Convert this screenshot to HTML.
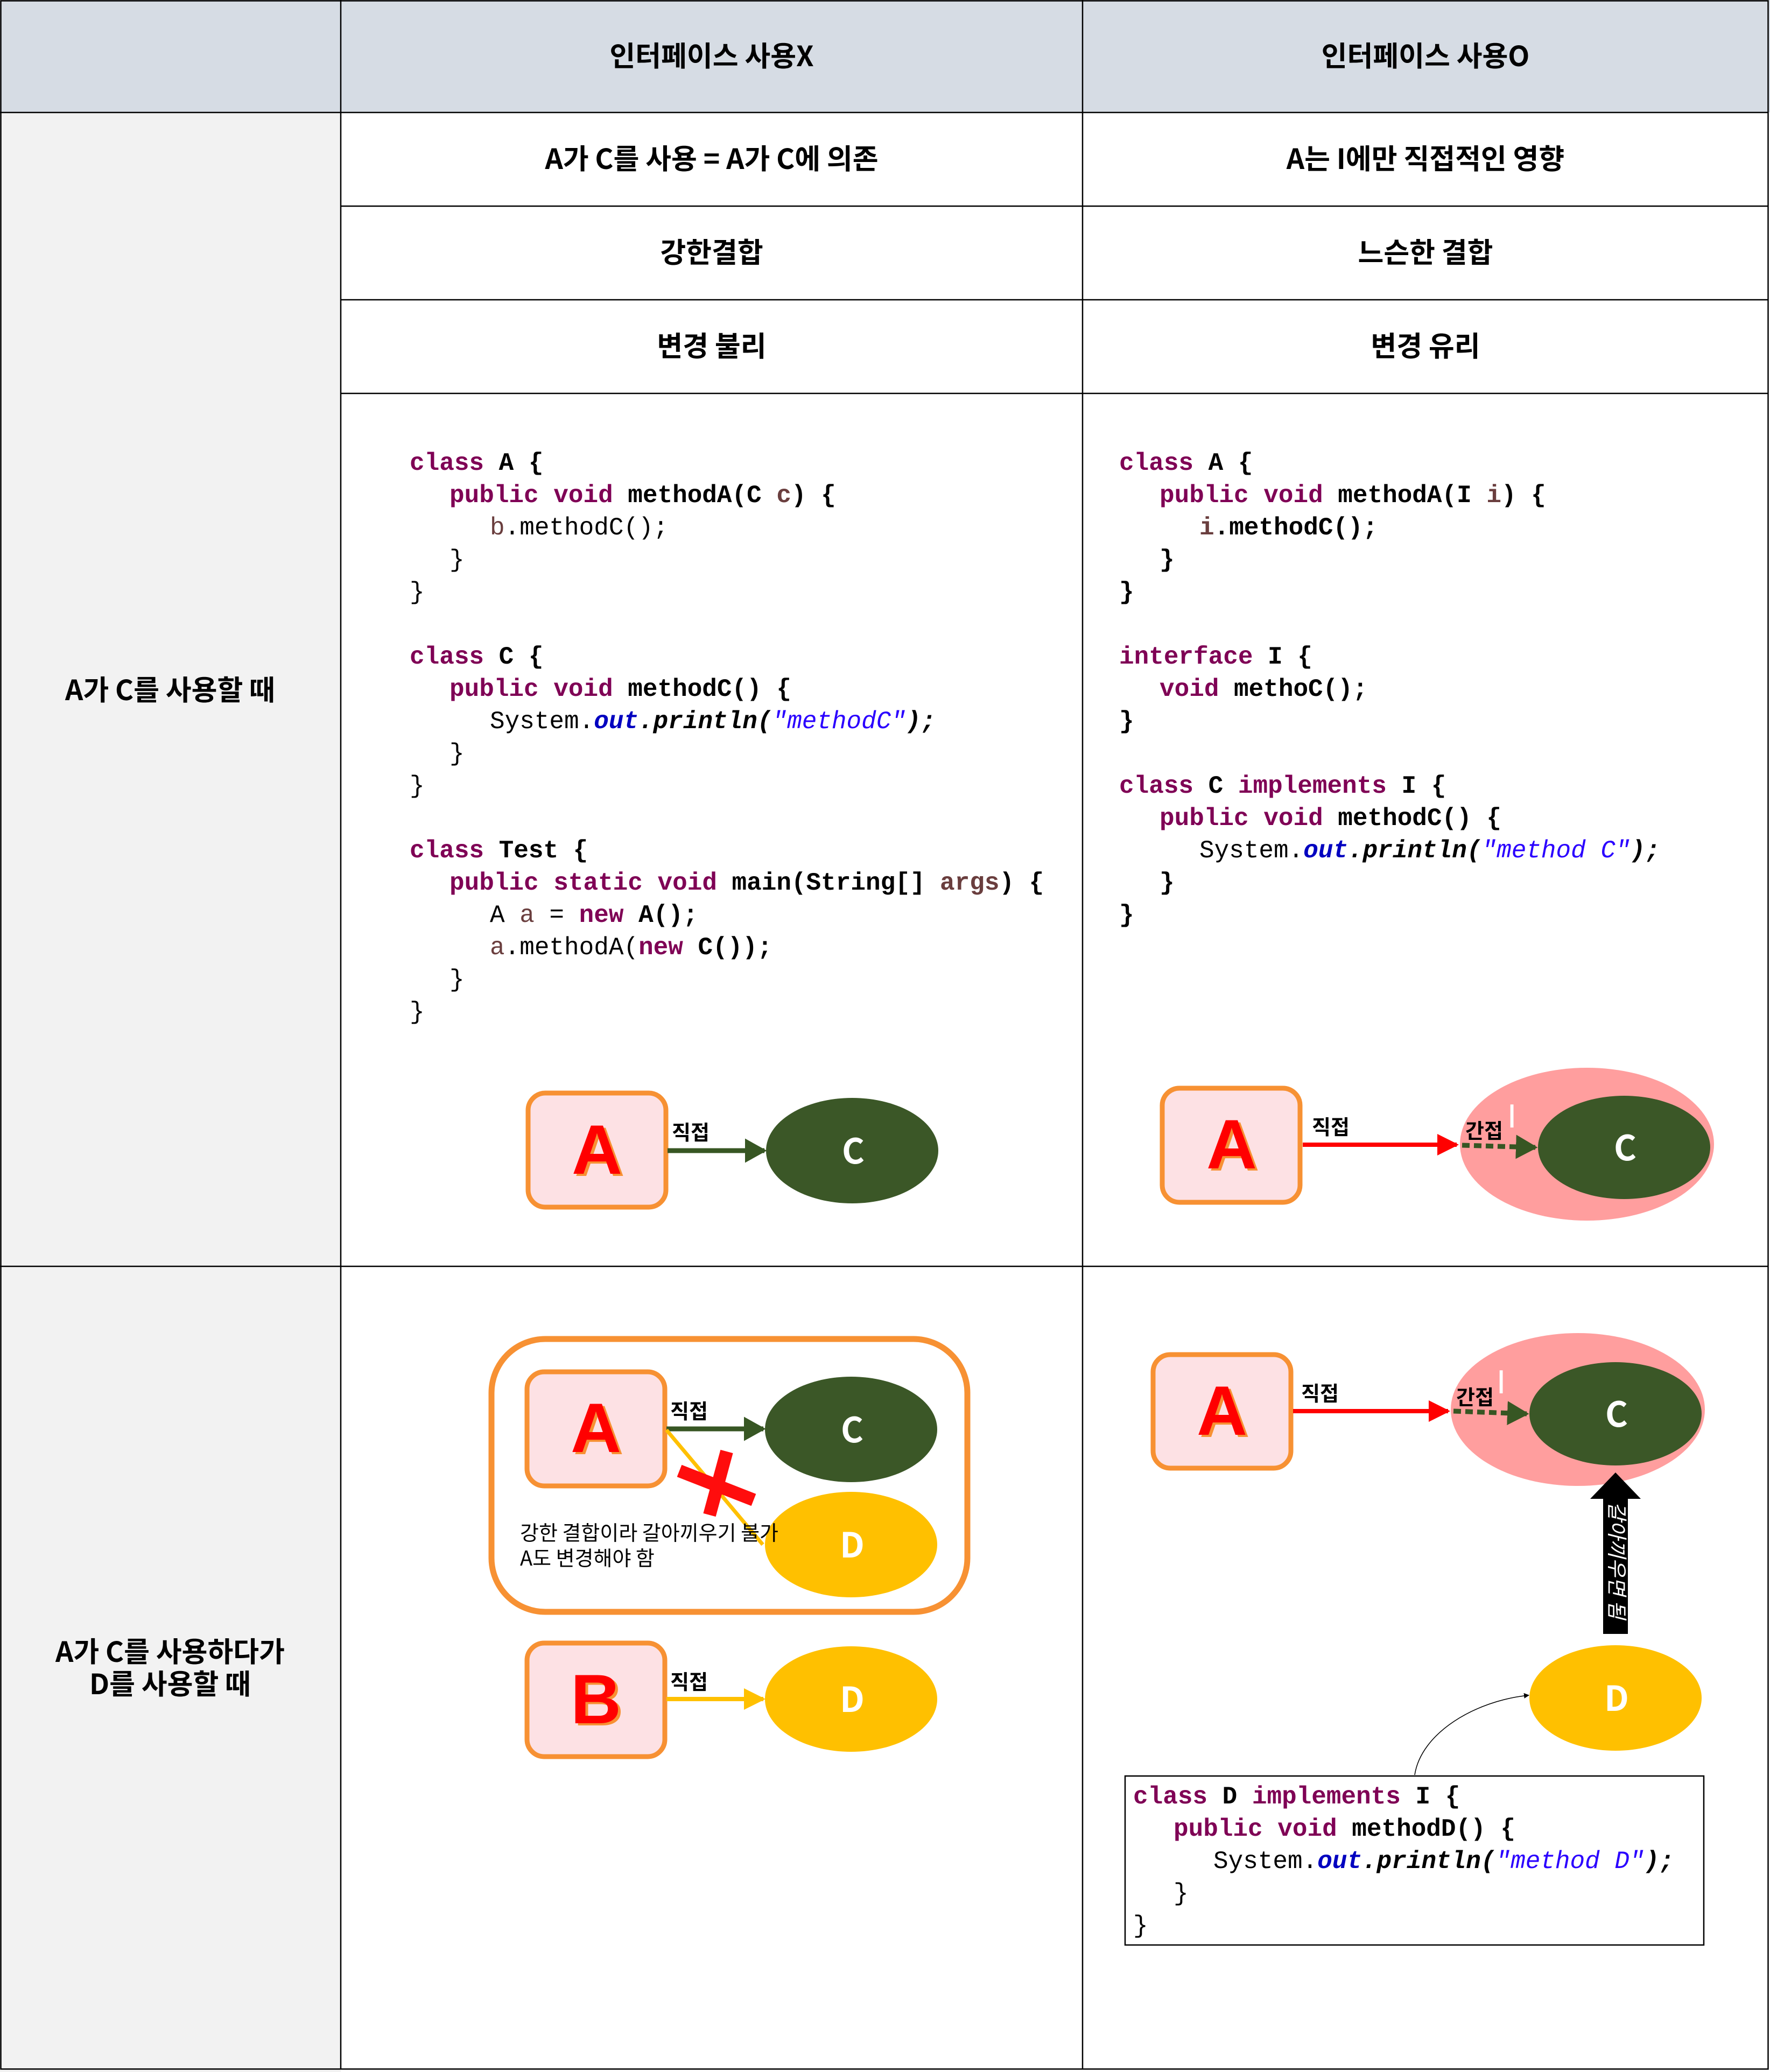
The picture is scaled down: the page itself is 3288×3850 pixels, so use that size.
<!DOCTYPE html>
<html><head><meta charset="utf-8"><style>
html,body{margin:0;padding:0;background:#fff;}
svg{display:block;}
.h{font-family:"Noto Sans CJK KR","Liberation Sans",sans-serif;font-weight:bold;font-size:52px;fill:#000;}
.c{font-family:"Liberation Mono","DejaVu Sans Mono",monospace;font-size:46px;fill:#000;white-space:pre;}
.k{fill:#7f0055;font-weight:bold;}
.v{fill:#6a3e3e;}
.o{fill:#0000c0;font-style:italic;font-weight:bold;}
.s{fill:#2a00ff;font-style:italic;}
.i{font-style:italic;font-weight:bold;}
.b{font-weight:bold;}
.bigA{font-family:"Liberation Sans",sans-serif;font-weight:bold;font-size:130px;}
.lbl{font-family:"Noto Sans CJK KR","Liberation Sans",sans-serif;font-weight:bold;font-size:38px;fill:#000;}
.wl{font-family:"Noto Sans CJK KR","Liberation Sans",sans-serif;font-weight:bold;font-size:64px;fill:#fff;}
.kt{font-family:"Noto Sans CJK KR","Liberation Sans",sans-serif;font-size:38px;fill:#000;}
</style></head><body>
<svg width="3288" height="3850" viewBox="0 0 3288 3850" xmlns="http://www.w3.org/2000/svg">
<defs>
<marker id="mg" markerWidth="4.5" markerHeight="5" refX="4" refY="2.5" orient="auto" markerUnits="strokeWidth"><path d="M0,0 L4.5,2.5 L0,5z" fill="#375623"/></marker>
<marker id="mr" markerWidth="5" markerHeight="5" refX="4.5" refY="2.5" orient="auto" markerUnits="strokeWidth"><path d="M0,0 L5,2.5 L0,5z" fill="#ff0000"/></marker>
<marker id="my" markerWidth="5" markerHeight="5" refX="4.5" refY="2.5" orient="auto" markerUnits="strokeWidth"><path d="M0,0 L5,2.5 L0,5z" fill="#ffc000"/></marker>
<marker id="mk" markerWidth="10" markerHeight="10" refX="9" refY="5" orient="auto" markerUnits="userSpaceOnUse"><path d="M0,0 L10,5 L0,10z" fill="#000"/></marker>
</defs>
<rect x="0" y="0" width="3288" height="209" fill="#d6dce4"/>
<rect x="0" y="209" width="633" height="3641" fill="#f2f2f2"/>
<g stroke="#000" stroke-width="2.5" fill="none">
<rect x="1.5" y="1.5" width="3283" height="3843"/>
<line x1="633" y1="0" x2="633" y2="3845"/>
<line x1="2011" y1="0" x2="2011" y2="3845"/>
<line x1="0" y1="209" x2="3285" y2="209"/>
<line x1="633" y1="383" x2="3285" y2="383"/>
<line x1="633" y1="557" x2="3285" y2="557"/>
<line x1="633" y1="731" x2="3285" y2="731"/>
<line x1="0" y1="2353" x2="3285" y2="2353"/>
</g>
<g class="h" text-anchor="middle">
<text x="1322" y="123">인터페이스 사용X</text>
<text x="2648" y="123">인터페이스 사용O</text>
<text x="1322" y="314">A가 C를 사용 = A가 C에 의존</text>
<text x="2648" y="314">A는 I에만 직접적인 영향</text>
<text x="1322" y="488">강한결합</text>
<text x="2648" y="488">느슨한 결합</text>
<text x="1322" y="662">변경 불리</text>
<text x="2648" y="662">변경 유리</text>
<text x="316" y="1301">A가 C를 사용할 때</text>
<text x="316" y="3088">A가 C를 사용하다가</text>
<text x="316" y="3148">D를 사용할 때</text>
</g>
<g class="c">
<text x="761" y="873"><tspan class="k">class</tspan><tspan class="b"> A {</tspan></text>
<text x="835" y="933"><tspan class="k">public</tspan> <tspan class="k">void</tspan><tspan class="b"> methodA(C </tspan><tspan class="v b">c</tspan><tspan class="b">) {</tspan></text>
<text x="910" y="993"><tspan class="v">b</tspan>.methodC();</text>
<text x="835" y="1053">}</text>
<text x="761" y="1113">}</text>
<text x="761" y="1233"><tspan class="k">class</tspan><tspan class="b"> C {</tspan></text>
<text x="835" y="1293"><tspan class="k">public</tspan> <tspan class="k">void</tspan><tspan class="b"> methodC() {</tspan></text>
<text x="910" y="1353">System.<tspan class="o">out</tspan><tspan class="i">.println(</tspan><tspan class="s">"methodC"</tspan><tspan class="i">);</tspan></text>
<text x="835" y="1413">}</text>
<text x="761" y="1473">}</text>
<text x="761" y="1593"><tspan class="k">class</tspan><tspan class="b"> Test {</tspan></text>
<text x="835" y="1653"><tspan class="k">public</tspan> <tspan class="k">static</tspan> <tspan class="k">void</tspan><tspan class="b"> main(String[] </tspan><tspan class="v b">args</tspan><tspan class="b">) {</tspan></text>
<text x="910" y="1713">A <tspan class="v">a</tspan> = <tspan class="k">new</tspan><tspan class="b"> A();</tspan></text>
<text x="910" y="1773"><tspan class="v">a</tspan>.methodA(<tspan class="k">new</tspan><tspan class="b"> C());</tspan></text>
<text x="835" y="1833">}</text>
<text x="761" y="1893">}</text>
</g>
<g class="c">
<text x="2079" y="873"><tspan class="k">class</tspan><tspan class="b"> A {</tspan></text>
<text x="2154" y="933"><tspan class="k">public</tspan> <tspan class="k">void</tspan><tspan class="b"> methodA(I </tspan><tspan class="v b">i</tspan><tspan class="b">) {</tspan></text>
<text x="2228" y="993"><tspan class="v b">i</tspan><tspan class="b">.methodC();</tspan></text>
<text x="2154" y="1053"><tspan class="b">}</tspan></text>
<text x="2079" y="1113"><tspan class="b">}</tspan></text>
<text x="2079" y="1233"><tspan class="k">interface</tspan><tspan class="b"> I {</tspan></text>
<text x="2154" y="1293"><tspan class="k">void</tspan><tspan class="b"> methoC();</tspan></text>
<text x="2079" y="1353"><tspan class="b">}</tspan></text>
<text x="2079" y="1473"><tspan class="k">class</tspan><tspan class="b"> C </tspan><tspan class="k">implements</tspan><tspan class="b"> I {</tspan></text>
<text x="2154" y="1533"><tspan class="k">public</tspan> <tspan class="k">void</tspan><tspan class="b"> methodC() {</tspan></text>
<text x="2228" y="1593">System.<tspan class="o">out</tspan><tspan class="i">.println(</tspan><tspan class="s">"method C"</tspan><tspan class="i">);</tspan></text>
<text x="2154" y="1653"><tspan class="b">}</tspan></text>
<text x="2079" y="1713"><tspan class="b">}</tspan></text>
</g>

<rect x="981" y="2031" width="256" height="212" rx="32" fill="#fde1e4" stroke="#f79133" stroke-width="9"/>
<text class="bigA" x="1114" y="2185" text-anchor="middle" fill="#f79133">A</text>
<text class="bigA" x="1109" y="2181" text-anchor="middle" fill="#ff0000">A</text>
<line x1="1240" y1="2138" x2="1420" y2="2138" stroke="#375623" stroke-width="9" marker-end="url(#mg)"/>
<text class="lbl" x="1248" y="2118">직접</text>
<ellipse cx="1583" cy="2138" rx="160" ry="98" fill="#3b5727"/>
<text class="wl" x="1585" y="2162" text-anchor="middle">C</text>

<rect x="2159" y="2022" width="256" height="212" rx="32" fill="#fde1e4" stroke="#f79133" stroke-width="9"/>
<text class="bigA" x="2293" y="2175" text-anchor="middle" fill="#f79133">A</text>
<text class="bigA" x="2288" y="2171" text-anchor="middle" fill="#ff0000">A</text>
<ellipse cx="2948" cy="2126" rx="236" ry="142" fill="#ff9e9e"/>
<line x1="2420" y1="2127" x2="2706" y2="2127" stroke="#ff0000" stroke-width="8" marker-end="url(#mr)"/>
<ellipse cx="3017" cy="2132" rx="160" ry="96" fill="#3b5727"/>
<line x1="2716" y1="2128" x2="2852" y2="2132" stroke="#375623" stroke-width="9" stroke-dasharray="14,8" marker-end="url(#mg)"/>
<text class="lbl" x="2437" y="2108">직접</text>
<text class="lbl" x="2722" y="2115">간접</text>
<text x="2800" y="2095" font-family="Liberation Sans" font-size="62" fill="#fff">I</text>
<text class="wl" x="3019" y="2156" text-anchor="middle">C</text>

<rect x="913" y="2488" width="884" height="507" rx="100" fill="#fff" stroke="#f79133" stroke-width="11"/>
<rect x="979" y="2549" width="256" height="212" rx="32" fill="#fde1e4" stroke="#f79133" stroke-width="9"/>
<text class="bigA" x="1112" y="2702" text-anchor="middle" fill="#f79133">A</text>
<text class="bigA" x="1107" y="2698" text-anchor="middle" fill="#ff0000">A</text>
<ellipse cx="1581" cy="2656" rx="160" ry="98" fill="#3b5727"/>
<text class="wl" x="1583" y="2680" text-anchor="middle">C</text>
<ellipse cx="1581" cy="2870" rx="160" ry="98" fill="#ffc000"/>
<text class="wl" x="1583" y="2894" text-anchor="middle">D</text>
<line x1="1238" y1="2655" x2="1418" y2="2655" stroke="#375623" stroke-width="9" marker-end="url(#mg)"/>
<line x1="1238" y1="2657" x2="1417" y2="2870" stroke="#ffc000" stroke-width="7"/>
<text class="lbl" x="1245" y="2636">직접</text>
<line x1="1350" y1="2697" x2="1318" y2="2815" stroke="#ff0d0d" stroke-width="24"/>
<line x1="1262" y1="2733" x2="1400" y2="2787" stroke="#ff0d0d" stroke-width="24"/>
<text class="kt" x="966" y="2862">강한 결합이라 갈아끼우기 불가</text>
<text class="kt" x="966" y="2909">A도 변경해야 함</text>

<rect x="979" y="3053" width="256" height="211" rx="32" fill="#fde1e4" stroke="#f79133" stroke-width="9"/>
<text class="bigA" x="1112" y="3206" text-anchor="middle" fill="#f79133">B</text>
<text class="bigA" x="1107" y="3202" text-anchor="middle" fill="#ff0000">B</text>
<line x1="1238" y1="3157" x2="1418" y2="3157" stroke="#ffc000" stroke-width="8" marker-end="url(#my)"/>
<text class="lbl" x="1245" y="3139">직접</text>
<ellipse cx="1581" cy="3157" rx="160" ry="98" fill="#ffc000"/>
<text class="wl" x="1583" y="3181" text-anchor="middle">D</text>

<rect x="2142" y="2517" width="256" height="211" rx="32" fill="#fde1e4" stroke="#f79133" stroke-width="9"/>
<text class="bigA" x="2275" y="2670" text-anchor="middle" fill="#f79133">A</text>
<text class="bigA" x="2270" y="2666" text-anchor="middle" fill="#ff0000">A</text>
<ellipse cx="2931" cy="2619" rx="236" ry="142" fill="#ff9e9e"/>
<line x1="2402" y1="2622" x2="2690" y2="2622" stroke="#ff0000" stroke-width="8" marker-end="url(#mr)"/>
<ellipse cx="3001" cy="2627" rx="160" ry="96" fill="#3b5727"/>
<line x1="2700" y1="2622" x2="2836" y2="2627" stroke="#375623" stroke-width="9" stroke-dasharray="14,8" marker-end="url(#mg)"/>
<text class="lbl" x="2417" y="2603">직접</text>
<text class="lbl" x="2705" y="2610">간접</text>
<text x="2780" y="2589" font-family="Liberation Sans" font-size="62" fill="#fff">I</text>
<text class="wl" x="3003" y="2651" text-anchor="middle">C</text>
<polygon points="3001,2736 3048,2785 3024,2785 3024,3036 2978,3036 2978,2785 2954,2785" fill="#000"/>
<text transform="translate(2990,2790) rotate(90)" font-family="'Noto Sans CJK KR',sans-serif" font-size="38" fill="#fff" font-style="italic">갈아끼우면 됨</text>
<ellipse cx="3001" cy="3155" rx="160" ry="98" fill="#ffc000"/>
<text class="wl" x="3003" y="3179" text-anchor="middle">D</text>
<path d="M2628,3298 C2640,3220 2740,3160 2840,3150" fill="none" stroke="#000" stroke-width="1.5" marker-end="url(#mk)"/>
<rect x="2090" y="3300" width="1075" height="314" fill="#fff" stroke="#000" stroke-width="2.5"/>
<g class="c">
<text x="2105" y="3351"><tspan class="k">class</tspan><tspan class="b"> D </tspan><tspan class="k">implements</tspan><tspan class="b"> I {</tspan></text>
<text x="2180" y="3411"><tspan class="k">public</tspan> <tspan class="k">void</tspan><tspan class="b"> methodD() {</tspan></text>
<text x="2254" y="3471">System.<tspan class="o">out</tspan><tspan class="i">.println(</tspan><tspan class="s">"method D"</tspan><tspan class="i">);</tspan></text>
<text x="2180" y="3531">}</text>
<text x="2105" y="3591">}</text>
</g>
</svg>
</body></html>
